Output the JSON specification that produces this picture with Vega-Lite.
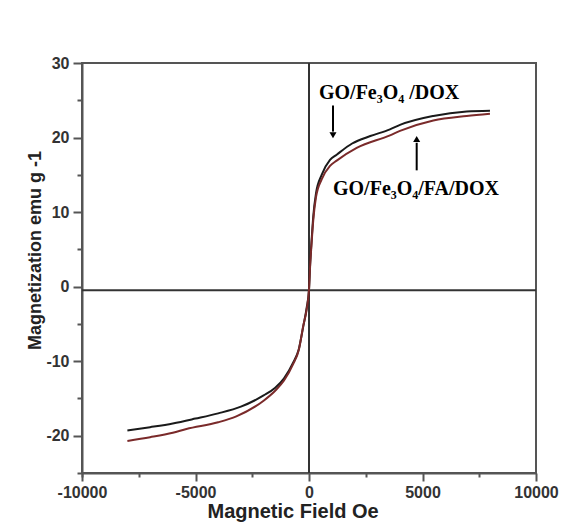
{
  "$schema": "https://vega.github.io/schema/vega-lite/v6.json",
  "autosize": "none",
  "width": 454,
  "height": 410,
  "padding": {"left": 82, "top": 63, "right": 31, "bottom": 49},
  "background": "white",
  "config": {
    "view": {"stroke": "#555", "strokeWidth": 2},
    "axis": {
      "domainColor": "#555", "domainWidth": 2, "tickColor": "#555", "tickWidth": 2,
      "labelFont": "Liberation Sans", "labelFontWeight": "bold", "labelFontSize": 16, "labelColor": "#333",
      "titleFont": "Liberation Sans", "titleFontWeight": "bold", "titleColor": "#222", "grid": false,
      "labelOverlap": false, "labelBound": false, "labelFlush": false
    },
    "axisX": {"titleFontSize": 20, "titlePadding": 1, "titleAnchor": "start", "titleAlign": "left", "titleX": 125, "labelPadding": 3},
    "axisY": {"titleFontSize": 18, "titlePadding": 1, "titleY": 187, "labelPadding": 4}
  },
  "resolve": {"axis": {"x": "independent", "y": "independent"}},
  "datasets": {
    "curves": [
      {"field": -8000, "m": -19.3, "sample": "GO/Fe3O4/DOX"},
      {"field": -7000, "m": -18.85, "sample": "GO/Fe3O4/DOX"},
      {"field": -6000, "m": -18.35, "sample": "GO/Fe3O4/DOX"},
      {"field": -5000, "m": -17.7, "sample": "GO/Fe3O4/DOX"},
      {"field": -4000, "m": -17.0, "sample": "GO/Fe3O4/DOX"},
      {"field": -3000, "m": -16.1, "sample": "GO/Fe3O4/DOX"},
      {"field": -2000, "m": -14.6, "sample": "GO/Fe3O4/DOX"},
      {"field": -1500, "m": -13.6, "sample": "GO/Fe3O4/DOX"},
      {"field": -1100, "m": -12.3, "sample": "GO/Fe3O4/DOX"},
      {"field": -700, "m": -10.2, "sample": "GO/Fe3O4/DOX"},
      {"field": -450, "m": -8.4, "sample": "GO/Fe3O4/DOX"},
      {"field": -250, "m": -5.3, "sample": "GO/Fe3O4/DOX"},
      {"field": -100, "m": -2.8, "sample": "GO/Fe3O4/DOX"},
      {"field": 0, "m": -0.4, "sample": "GO/Fe3O4/DOX"},
      {"field": 50, "m": 3.0, "sample": "GO/Fe3O4/DOX"},
      {"field": 100, "m": 5.5, "sample": "GO/Fe3O4/DOX"},
      {"field": 190, "m": 9.5, "sample": "GO/Fe3O4/DOX"},
      {"field": 308, "m": 12.5, "sample": "GO/Fe3O4/DOX"},
      {"field": 558, "m": 15.0, "sample": "GO/Fe3O4/DOX"},
      {"field": 925, "m": 17.0, "sample": "GO/Fe3O4/DOX"},
      {"field": 1220, "m": 17.7, "sample": "GO/Fe3O4/DOX"},
      {"field": 1900, "m": 19.2, "sample": "GO/Fe3O4/DOX"},
      {"field": 2700, "m": 20.2, "sample": "GO/Fe3O4/DOX"},
      {"field": 3567, "m": 21.1, "sample": "GO/Fe3O4/DOX"},
      {"field": 4008, "m": 21.7, "sample": "GO/Fe3O4/DOX"},
      {"field": 5476, "m": 22.9, "sample": "GO/Fe3O4/DOX"},
      {"field": 6946, "m": 23.5, "sample": "GO/Fe3O4/DOX"},
      {"field": 7972, "m": 23.6, "sample": "GO/Fe3O4/DOX"},
      {"field": -8000, "m": -20.7, "sample": "GO/Fe3O4/FA/DOX"},
      {"field": -7000, "m": -20.2, "sample": "GO/Fe3O4/FA/DOX"},
      {"field": -6000, "m": -19.6, "sample": "GO/Fe3O4/FA/DOX"},
      {"field": -5400, "m": -19.1, "sample": "GO/Fe3O4/FA/DOX"},
      {"field": -4000, "m": -18.2, "sample": "GO/Fe3O4/FA/DOX"},
      {"field": -3200, "m": -17.4, "sample": "GO/Fe3O4/FA/DOX"},
      {"field": -2000, "m": -15.3, "sample": "GO/Fe3O4/FA/DOX"},
      {"field": -1500, "m": -14.0, "sample": "GO/Fe3O4/FA/DOX"},
      {"field": -1100, "m": -12.6, "sample": "GO/Fe3O4/FA/DOX"},
      {"field": -700, "m": -10.4, "sample": "GO/Fe3O4/FA/DOX"},
      {"field": -450, "m": -8.5, "sample": "GO/Fe3O4/FA/DOX"},
      {"field": -250, "m": -5.2, "sample": "GO/Fe3O4/FA/DOX"},
      {"field": -100, "m": -3.0, "sample": "GO/Fe3O4/FA/DOX"},
      {"field": 0, "m": -0.4, "sample": "GO/Fe3O4/FA/DOX"},
      {"field": 50, "m": 2.8, "sample": "GO/Fe3O4/FA/DOX"},
      {"field": 100, "m": 5.2, "sample": "GO/Fe3O4/FA/DOX"},
      {"field": 190, "m": 9.0, "sample": "GO/Fe3O4/FA/DOX"},
      {"field": 308, "m": 12.0, "sample": "GO/Fe3O4/FA/DOX"},
      {"field": 558, "m": 14.4, "sample": "GO/Fe3O4/FA/DOX"},
      {"field": 925, "m": 16.2, "sample": "GO/Fe3O4/FA/DOX"},
      {"field": 1220, "m": 16.9, "sample": "GO/Fe3O4/FA/DOX"},
      {"field": 2100, "m": 18.6, "sample": "GO/Fe3O4/FA/DOX"},
      {"field": 3567, "m": 20.3, "sample": "GO/Fe3O4/FA/DOX"},
      {"field": 4008, "m": 20.9, "sample": "GO/Fe3O4/FA/DOX"},
      {"field": 5476, "m": 22.3, "sample": "GO/Fe3O4/FA/DOX"},
      {"field": 6946, "m": 22.9, "sample": "GO/Fe3O4/FA/DOX"},
      {"field": 7972, "m": 23.2, "sample": "GO/Fe3O4/FA/DOX"}
    ]
  },
  "layer": [
    {
      "data": {"values": [{"x": -10000, "x2": 10000, "y": -0.5}]},
      "mark": {"type": "rule", "color": "#333", "strokeWidth": 2},
      "encoding": {
        "x": {"field": "x", "type": "quantitative", "scale": {"domain": [-10000, 10000], "nice": false, "zero": false},
          "title": "Magnetic Field Oe",
          "axis": {
            "orient": "bottom",
            "values": [-10000, -5000, 0, 5000, 10000],
            "labelExpr": "'' + datum.value",
            "tickSize": 8
          }},
        "x2": {"field": "x2"},
        "y": {"field": "y", "type": "quantitative", "scale": {"domain": [-25, 30], "nice": false, "zero": false},
          "title": "Magnetization emu g -1",
          "axis": {
            "orient": "left",
            "values": [-20, -10, 0, 10, 20, 30],
            "labelExpr": "'' + datum.value",
            "tickSize": 9
          }}
      }
    },
    {
      "data": {"values": [{"x": 0, "y": -25, "y2": 30}]},
      "mark": {"type": "rule", "color": "#333", "strokeWidth": 2},
      "encoding": {
        "x": {"field": "x", "type": "quantitative",
          "axis": {"orient": "bottom", "values": [-7500, -2500, 2500, 7500, -10000], "labels": false, "domain": false, "tickSize": 4, "title": null}},
        "y": {"field": "y", "type": "quantitative",
          "axis": {"orient": "left", "values": [-25, -15, -5, 5, 15, 25], "labels": false, "domain": false, "tickSize": 5, "title": null}},
        "y2": {"field": "y2"}
      }
    },
    {
      "data": {"name": "curves"},
      "mark": {"type": "line", "strokeWidth": 2, "interpolate": "monotone"},
      "encoding": {
        "x": {"field": "field", "type": "quantitative", "axis": null},
        "y": {"field": "m", "type": "quantitative", "axis": null},
        "color": {"field": "sample", "type": "nominal",
          "scale": {"domain": ["GO/Fe3O4/DOX", "GO/Fe3O4/FA/DOX"], "range": ["#1a1a1a", "#7a2a2a"]},
          "legend": null}
      }
    },
    {
      "data": {"values": [
        {"x": 1057, "y": 24.3, "y2": 20.8},
        {"x": 4744, "y": 15.6, "y2": 19.3}
      ]},
      "mark": {"type": "rule", "color": "black", "strokeWidth": 2},
      "encoding": {
        "x": {"field": "x", "type": "quantitative", "axis": null},
        "y": {"field": "y", "type": "quantitative", "axis": null},
        "y2": {"field": "y2"}
      }
    },
    {
      "data": {"values": [
        {"x": 1057, "y": 20.3, "dir": "triangle-down"},
        {"x": 4744, "y": 19.8, "dir": "triangle-up"}
      ]},
      "mark": {"type": "point", "filled": true, "color": "black", "opacity": 1, "size": 50},
      "encoding": {
        "x": {"field": "x", "type": "quantitative", "axis": null},
        "y": {"field": "y", "type": "quantitative", "axis": null},
        "shape": {"field": "dir", "type": "nominal", "scale": {"domain": ["triangle-down", "triangle-up"], "range": ["triangle-down", "triangle-up"]}, "legend": null}
      }
    },
    {
      "data": {"values": [
        {"x": 440, "y": 26.0, "label": "GO/Fe₃O₄ /DOX"},
        {"x": 1057, "y": 13.1, "label": "GO/Fe₃O₄/FA/DOX"}
      ]},
      "mark": {"type": "text", "align": "left", "baseline": "middle", "font": "Liberation Serif", "fontWeight": "bold", "fontSize": 20, "color": "black"},
      "encoding": {
        "x": {"field": "x", "type": "quantitative", "axis": null},
        "y": {"field": "y", "type": "quantitative", "axis": null},
        "text": {"field": "label"}
      }
    }
  ]
}
